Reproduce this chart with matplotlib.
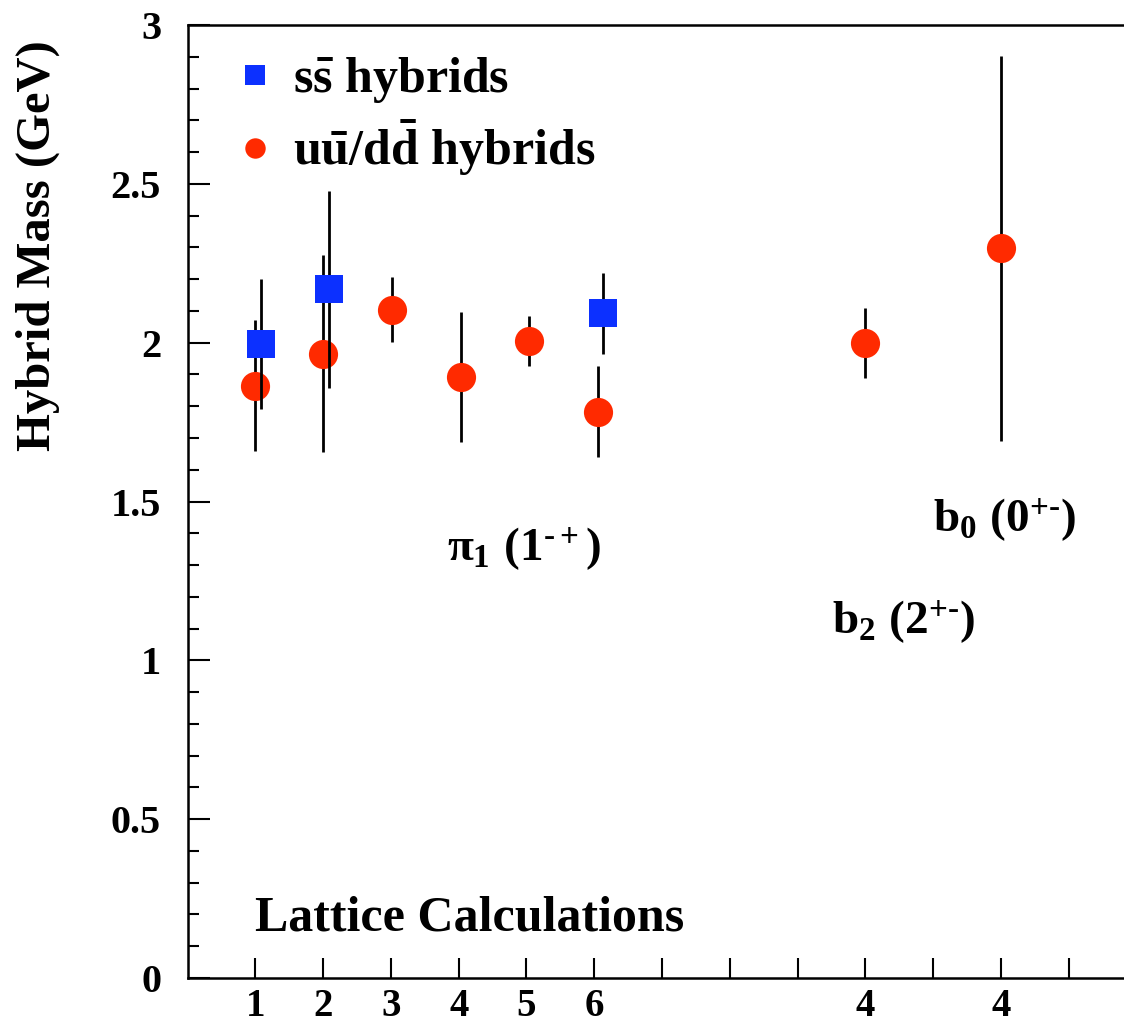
import matplotlib
matplotlib.use("Agg")
import matplotlib.pyplot as plt
from matplotlib.ticker import MultipleLocator, FormatStrFormatter

#########################
# DATA
RED_X = [1.0, 2.0, 3.02, 4.03, 5.03, 6.06, 10.0, 12.0]
RED_Y = [1.865, 1.965, 2.104, 1.892, 2.005, 1.783, 2.0, 2.297]
RED_ERR = [0.205, 0.31, 0.103, 0.205, 0.08, 0.143, 0.11, 0.605]

BLUE_X = [1.08, 2.08, 6.13]
BLUE_Y = [1.995, 2.168, 2.092]
BLUE_ERR = [0.205, 0.31, 0.127]

X_TICKS = list(range(1, 14))
X_TICK_LABELS = ["1", "2", "3", "4", "5", "6", "", "", "", "4", "", "4", ""]

LEGEND_LABELS = [r"$s\bar{s}$ hybrids", r"$u\bar{u}/d\bar{d}$ hybrids"]

#########################
# STYLE
RED = "#ff2a00"
BLUE = "#0c30ff"
plt.rcParams["font.family"] = ["Liberation Serif", "DejaVu Serif"]
plt.rcParams["font.weight"] = "bold"
plt.rcParams["mathtext.fontset"] = "custom"
plt.rcParams["mathtext.rm"] = "Liberation Serif:bold"
plt.rcParams["mathtext.it"] = "Liberation Serif:bold"
plt.rcParams["mathtext.bf"] = "Liberation Serif:bold"

W, H = 1124, 1023
fig = plt.figure(figsize=(W / 100, H / 100), dpi=100)
# axes runs past the right edge of the picture, as in the cropped original
x0, y0, y1, px_per_unit = 187.5, 978, 25, 67.8
ax = fig.add_axes([x0 / W, (H - y0) / H, 14 * px_per_unit / W, (y0 - y1) / H])

# error bars + markers
ax.errorbar(RED_X, RED_Y, yerr=RED_ERR, fmt="none", ecolor="black", elinewidth=2, zorder=2)
ax.plot(RED_X, RED_Y, "o", color=RED, markersize=21, markeredgewidth=0, zorder=3,
        label=LEGEND_LABELS[1])
ax.errorbar(BLUE_X, BLUE_Y, yerr=BLUE_ERR, fmt="none", ecolor="black", elinewidth=2, zorder=4)
ax.plot(BLUE_X, BLUE_Y, "s", color=BLUE, markersize=20, markeredgewidth=0, zorder=5,
        label=LEGEND_LABELS[0])

ax.set_xlim(0, 14)
ax.set_ylim(0, 3)

ax.set_xticks(X_TICKS)
ax.set_xticklabels(X_TICK_LABELS)
ax.yaxis.set_major_locator(MultipleLocator(0.5))
ax.yaxis.set_minor_locator(MultipleLocator(0.1))
ax.yaxis.set_major_formatter(FormatStrFormatter("%g"))

ax.tick_params(axis="x", direction="in", length=14.5, width=1.5, labelsize=28, pad=7)
ax.tick_params(axis="y", which="major", direction="in", length=16, width=1.5, labelsize=29, pad=19)
ax.tick_params(axis="y", which="minor", direction="in", length=8, width=1.5)
for s in ax.spines.values():
    s.set_linewidth(1.8)

# legend (square first)
h, l = ax.get_legend_handles_labels()
ax.legend(h[::-1], l[::-1], loc="upper left", bbox_to_anchor=(0.05, 0.968),
          frameon=False, fontsize=36, markerscale=0.7, handlelength=0.8,
          handletextpad=0.36, borderpad=0, borderaxespad=0, labelspacing=0.25)

# annotations
ax.text(1.0, 0.151, "Lattice Calculations", fontsize=36, va="baseline", ha="left")
ax.text(3.83, 1.35, "$\\pi_1\\ (1^{\u2010+})$", fontsize=34, va="center", ha="left")
ax.text(11.0, 1.44, "$b_0\\ (0^{+\u2010})$", fontsize=34, va="center", ha="left")
ax.text(9.5, 1.12, "$b_2\\ (2^{+\u2010})$", fontsize=34, va="center", ha="left")

fig.text(38 / W, 1 - 246 / H, "Hybrid Mass (GeV)", rotation=90, fontsize=35,
         ha="center", va="center")

fig.savefig("out.png", dpi=100)
